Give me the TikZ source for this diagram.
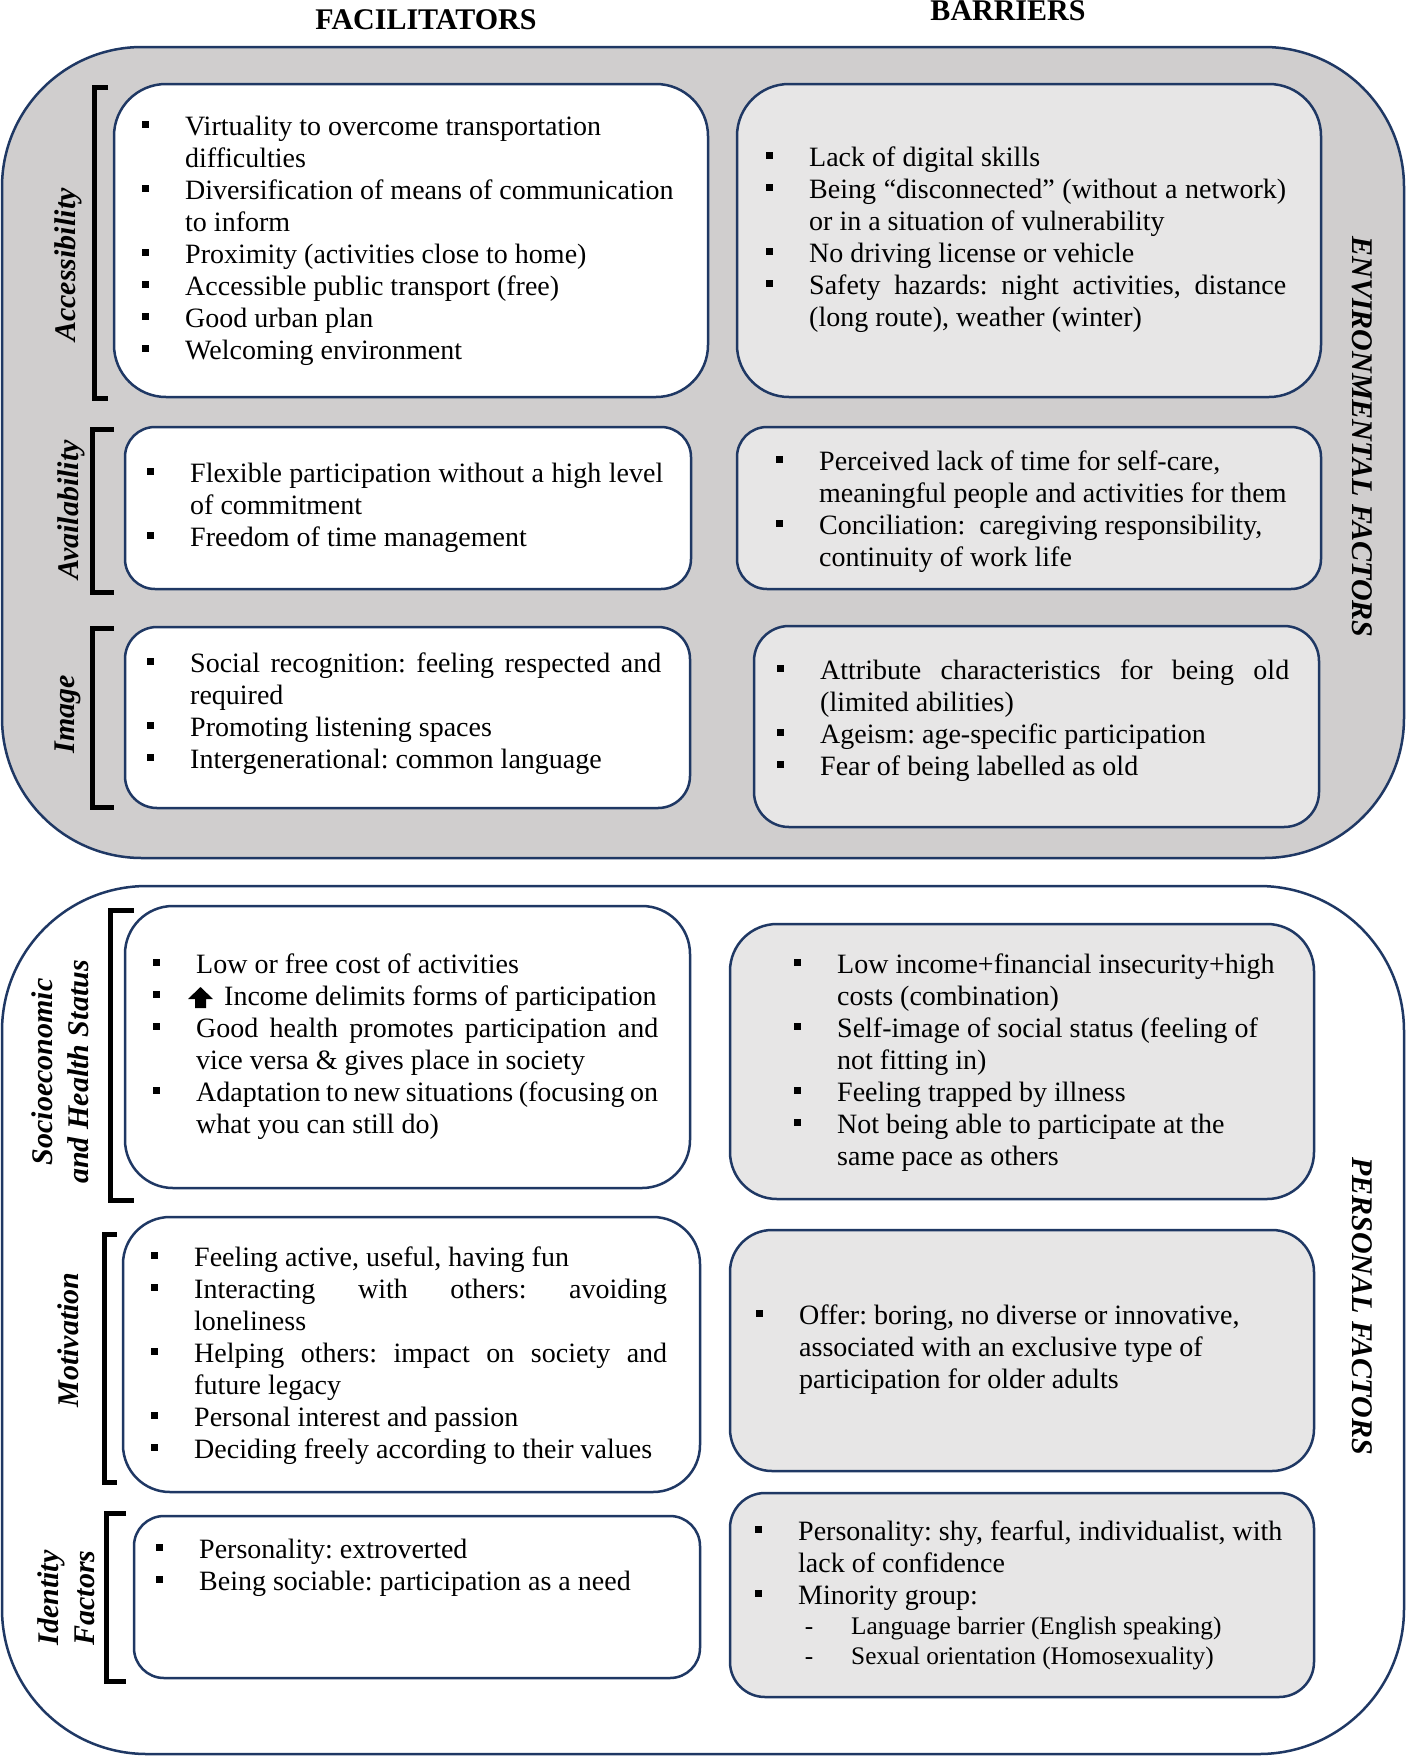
\documentclass[tikz,border=0pt]{standalone}
\usepackage{fontspec}
\setmainfont{Liberation Serif}
\definecolor{navy}{RGB}{31,56,100}
\definecolor{envgray}{HTML}{D0CECE}
\definecolor{bargray}{HTML}{E7E6E6}
\newcommand{\Rsp}{\spaceskip=0pt\xspaceskip=0pt\frenchspacing}
\newcommand{\B}{\noindent\Rsp\strut\llap{\rule[7pt]{7pt}{7pt}\hspace{36pt}}}
\newcommand{\J}[2]{\makebox[#1pt][s]{#2}}
\newcommand{\Dsh}{\noindent\Rsp\strut\llap{-\hspace{38pt}}}
\begin{document}
\begin{tikzpicture}[x=1pt,y=-1pt,
  outerbox/.style={draw=navy, line width=2.5pt},
  inbox/.style={draw=navy, line width=2.5pt, fill=white},
  barbox/.style={draw=navy, line width=2.5pt, fill=bargray},
  txt/.style={anchor=north west, inner sep=0pt, align=left, font=\fontsize{28}{32}\selectfont},
  subtxt/.style={anchor=north west, inner sep=0pt, align=left, font=\fontsize{25.3}{30}\selectfont},
  side/.style={inner sep=0pt, rotate=90, align=center, font=\fontsize{30}{36}\selectfont\bfseries\itshape},
  sect/.style={inner sep=0pt, rotate=-90, font=\fontsize{30}{35}\selectfont\bfseries\itshape},
  head/.style={anchor=base, inner sep=0pt, font=\fontsize{30}{35}\selectfont\bfseries},
  brk/.style={line width=5pt, line cap=butt, line join=miter}]

\useasboundingbox (0,0) rectangle (1406,1757);
\fill[white] (0,0) rectangle (1406,1757);

% headers
\node[head] (hF) at (426,29) {FACILITATORS};
\node[head] (hB) at (1008,20) {BARRIERS};

% outer sections
\draw[outerbox, fill=envgray, rounded corners=140pt] (2,47) rectangle (1404,858);
\draw[outerbox, fill=white, rounded corners=145pt] (2,886) rectangle (1404,1754);

% environmental boxes
\draw[inbox, rounded corners=52pt] (114,84) rectangle (708,397);
\draw[barbox, rounded corners=52pt] (737,84) rectangle (1321,397);
\draw[inbox, rounded corners=30pt] (125,427) rectangle (691,589);
\draw[barbox, rounded corners=30pt] (737,427) rectangle (1321,589);
\draw[inbox, rounded corners=32pt] (125,627) rectangle (690,808);
\draw[barbox, rounded corners=35pt] (754,626) rectangle (1319,827);

% personal boxes
\draw[inbox, rounded corners=48pt] (125,906) rectangle (690,1188);
\draw[barbox, rounded corners=47pt] (730,924) rectangle (1314,1199);
\draw[inbox, rounded corners=47pt] (123,1217) rectangle (700,1492);
\draw[barbox, rounded corners=42pt] (730,1230) rectangle (1314,1471);
\draw[inbox, rounded corners=30pt] (134,1516) rectangle (700,1678);
\draw[barbox, rounded corners=35pt] (730,1493) rectangle (1314,1697);

% brackets
\draw[brk] (108,87) -- (94,87) -- (94,398) -- (108,398);
\draw[brk] (114,429) -- (92,429) -- (92,592) -- (114,592);
\draw[brk] (114,628) -- (92,628) -- (92,807) -- (114,807);
\draw[brk] (134,910) -- (110,910) -- (110,1200) -- (134,1200);
\draw[brk] (117,1234) -- (104,1234) -- (104,1482) -- (117,1482);
\draw[brk] (126,1513) -- (106,1513) -- (106,1681) -- (126,1681);

% side labels
\node[side] (lAcc) at (68,265) {Accessibility};
\node[side] (lAv) at (71,510) {Availability};
\node[side] (lIm) at (68,714) {Image};
\node[side] (lSoc) at (60,1072) {\Rsp Socioeconomic\\\Rsp and Health Status};
\node[side] (lMot) at (68,1340) {Motivation};
\node[side] (lId) at (66,1598) {Identity\\Factors};

% section labels
\node[sect] (env) at (1362,437) {\Rsp ENVIRONMENTAL FACTORS};
\node[sect] (pers) at (1362,1306) {\Rsp PERSONAL FACTORS};

% texts: environmental
\node[txt, text width=515pt] (tAccF) at (185,112.6) {%
\B Virtuality to overcome transportation\\
difficulties\\
\B Diversification of means of communication\\
to inform\\
\B Proximity (activities close to home)\\
\B Accessible public transport (free)\\
\B Good urban plan\\
\B Welcoming environment};

\node[txt, text width=500pt] (tAccB) at (809,143.6) {%
\B Lack of digital skills\\
\B \J{477}{Being “disconnected” (without a network)}\\
or in a situation of vulnerability\\
\B No driving license or vehicle\\
\B \J{477}{Safety hazards: night activities, distance}\\
(long route), weather (winter)};

\node[txt, text width=490pt] (tAvF) at (190,459.6) {%
\B \J{473}{Flexible participation without a high level}\\
of commitment\\
\B Freedom of time management};

\node[txt, text width=490pt] (tAvB) at (819,447.6) {%
\B Perceived lack of time for self-care,\\
meaningful people and activities for them\\
\B Conciliation:\ \ caregiving responsibility,\\
continuity of work life};

\node[txt, text width=490pt] (tImF) at (190,649.6) {%
\B \J{471}{Social recognition: feeling respected and}\\
required\\
\B Promoting listening spaces\\
\B Intergenerational: common language};

\node[txt, text width=488pt] (tImB) at (820,656.6) {%
\B \J{469}{Attribute characteristics for being old}\\
(limited abilities)\\
\B Ageism: age-specific participation\\
\B Fear of being labelled as old};

% texts: personal
\node[txt, text width=484pt] (tSocF) at (196,950.6) {%
\B Low or free cost of activities\\
\B \hspace{28pt}Income delimits forms of participation\\
\B \J{462}{Good health promotes participation and}\\
vice versa \& gives place in society\\
\B \J{462}{Adaptation to new situations (focusing on}\\
what you can still do)};
\fill (188,999) -- (200.5,987) -- (213,999) -- (206,999) -- (206,1008) -- (195,1008) -- (195,999) -- cycle;

\node[txt, text width=467pt] (tSocB) at (837,950.6) {%
\B Low income+financial insecurity+high\\
costs (combination)\\
\B Self-image of social status (feeling of\\
not fitting in)\\
\B Feeling trapped by illness\\
\B Not being able to participate at the\\
same pace as others};

\node[txt, text width=496pt] (tMotF) at (194,1243.6) {%
\B Feeling active, useful, having fun\\
\B \J{473}{Interacting with others: avoiding}\\
loneliness\\
\B \J{473}{Helping others: impact on society and}\\
future legacy\\
\B Personal interest and passion\\
\B Deciding freely according to their values};

\node[txt, text width=505pt] (tMotB) at (799,1301.6) {%
\B Offer: boring, no diverse or innovative,\\
associated with an exclusive type of\\
participation for older adults};

\node[txt, text width=491pt] (tIdF) at (199,1535.6) {%
\B Personality: extroverted\\
\B Being sociable: participation as a need};

\node[txt, text width=506pt] (tIdB) at (798,1517.6) {%
\B Personality: shy, fearful, individualist, with\\
lack of confidence\\
\B Minority group:};

\node[subtxt, text width=450pt] (tIdBsub) at (851,1613) {%
\Dsh Language barrier (English speaking)\\
\Dsh Sexual orientation (Homosexuality)};

\end{tikzpicture}
\end{document}
